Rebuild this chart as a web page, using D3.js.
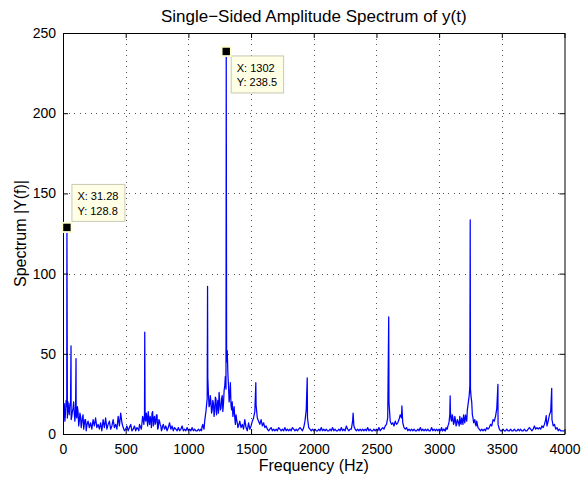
<!DOCTYPE html>
<html>
<head>
<meta charset="utf-8">
<script src="https://cdn.jsdelivr.net/npm/d3@7"></script>
<style>
  html, body { margin: 0; padding: 0; background: #fff; }
  svg { display: block; }
  text { font-family: "Liberation Sans", Arial, Helvetica, sans-serif; fill: #000; }
</style>
</head>
<body>
<svg id="chart" width="584" height="477"></svg>
<script>
// ---------------- data ----------------
const titleText = "Single\u2212Sided Amplitude Spectrum of y(t)";
const xLabelText = "Frequency (Hz)";
const yLabelText = "Spectrum |Y(f)|";

const freqStepHz = 10; // spacing of the sampled amplitude values below (0 .. 4000 Hz)
const amplitude = [
  4,19,13,17,20,12,18,11,16,13,      // 0-90
  15,10,14,8,11,7,12,6,9,5,          // 100-190
  8,4,7,3,9,5,10,4,6,3,              // 200
  7,2,9,4,10,3,6,8,3,5,              // 300
  9,4,6,3,11,5,13,7,4,2,             // 400
  3,5,2,4,6,2,3,5,2,4,               // 500
  3,6,4,7,9,12,8,10,14,6,            // 600
  9,13,5,11,7,12,4,8,5,3,            // 700
  6,3,5,2,4,7,3,5,2,4,               // 800
  3,2,4,2,3,5,2,3,2,4,               // 900
  2,3,2,4,2,3,2,2,3,2,               // 1000
  3,5,4,8,14,22,25,18,20,15,         // 1100
  19,14,22,17,13,20,16,24,19,30,     // 1200
  28,52,30,24,18,20,14,10,12,7,      // 1300
  5,8,4,6,3,9,4,2,7,3,               // 1400
  5,8,10,14,18,10,8,6,9,5,           // 1500
  7,4,5,3,2,3,4,2,3,2,               // 1600
  3,2,4,3,2,3,2,4,2,3,               // 1700
  2,3,2,4,3,2,3,2,3,4,               // 1800
  3,2,4,8,15,10,4,3,2,3,             // 1900
  2,3,2,2,3,2,4,2,3,2,               // 2000
  3,2,2,3,2,4,2,3,2,2,               // 2100
  3,2,4,2,3,2,5,3,2,3,               // 2200
  3,8,5,3,2,3,2,3,2,3,               // 2300
  2,3,2,4,2,3,2,2,3,2,               // 2400
  3,2,4,2,3,4,3,5,6,10,              // 2500
  20,8,6,7,5,8,6,7,9,12,             // 2600
  10,7,4,3,4,2,3,2,3,2,              // 2700
  3,2,2,3,2,4,2,3,2,3,               // 2800
  2,3,2,2,4,2,3,2,3,2,               // 2900
  3,2,4,2,3,2,3,5,8,14,              // 3000
  8,10,7,9,6,8,5,7,10,6,             // 3100
  9,12,8,18,24,28,20,10,8,6,         // 3200
  8,4,3,2,3,2,3,2,4,3,               // 3300
  4,6,5,9,8,11,16,6,3,2,             // 3400
  2,3,2,2,3,2,2,3,2,2,               // 3500
  3,2,2,3,2,3,2,2,3,2,               // 3600
  2,3,4,3,2,3,5,3,4,3,               // 3700
  4,3,5,4,6,9,5,8,12,14,             // 3800
  9,5,6,3,4,2,3,2,2,2,               // 3900
  2                                  // 4000
];

// extra in-between samples (half a step offset) in the noisiest bands
const fineLowStart = 5;     // 5 .. 195 Hz
const fineLowAmp = [12,8,21,10,15,19,9,14,20,8,12,17,5,13,4,10,3,9,2,7];
const fineMidStart = 605;   // 605 .. 795 Hz
const fineMidAmp = [2,5,3,11,6,10,13,5,9,11,4,14,10,6,12,3,9,6,2,5];
const finePeakStart = 1105; // 1105 .. 1395 Hz
const finePeakAmp = [2,6,3,11,18,35,17,24,13,21, 11,23,12,21,26,15,22,14,27,36, 45,38,20,32,15,11,17,6,9,4];
const fineHighStart = 3005; // 3005 .. 3295 Hz
const fineHighAmp = [2,3,2,3,2,4,3,6,12,9, 12,6,11,5,9,7,11,6,8,12, 7,10,15,21,30,23,12,7,9,5];

// narrow spectral peaks
const peakFreq = [31.28, 64, 104, 652, 1153, 1302, 1538, 1948, 2314, 2598, 2703, 3088, 3248, 3469, 3854, 3898];
const peakAmp  = [128.8, 55, 47, 63.5, 92, 238.5, 32, 35, 13, 73, 17.5, 23.7, 133.5, 31, 11.5, 28.5];

// data tips shown on the chart (indices into the peak arrays)
const tipPeaks = [0, 5];

const xTicks = [0, 500, 1000, 1500, 2000, 2500, 3000, 3500, 4000];
const yTicks = [0, 50, 100, 150, 200, 250];

// ---------------- layout ----------------
const W = 584, H = 477;
const plot = { left: 63, right: 564.5, top: 33, bottom: 434 };
const font = '"Liberation Sans", Arial, Helvetica, sans-serif';

const svg = d3.select("#chart");
svg.append("rect").attr("width", W).attr("height", H).attr("fill", "#fff");

const x = d3.scaleLinear().domain([0, 4000]).range([plot.left, plot.right]);
const y = d3.scaleLinear().domain([0, 250]).range([plot.bottom, plot.top]);

const pw = plot.right - plot.left, ph = plot.bottom - plot.top;

// grid
const grid = svg.append("g").attr("stroke", "#555").attr("stroke-width", 1)
  .attr("stroke-dasharray", "1,4.5").attr("shape-rendering", "crispEdges");
grid.selectAll("line.vx").data(xTicks.slice(1, -1)).join("line")
  .attr("x1", d => Math.round(x(d)) + 0.5).attr("x2", d => Math.round(x(d)) + 0.5)
  .attr("y1", plot.top).attr("y2", plot.bottom);
grid.selectAll("line.hy").data(yTicks.slice(1, -1)).join("line")
  .attr("y1", d => Math.round(y(d)) + 0.5).attr("y2", d => Math.round(y(d)) + 0.5)
  .attr("x1", plot.left).attr("x2", plot.right);

// data line: merge all samples, sorted by frequency
const fineSets = [[fineLowStart, fineLowAmp], [fineMidStart, fineMidAmp], [finePeakStart, finePeakAmp], [fineHighStart, fineHighAmp]];
let points = amplitude.map((a, i) => ({ f: i * freqStepHz, a }));
fineSets.forEach(([s, arr]) => arr.forEach((a, i) => points.push({ f: s + i * freqStepHz, a })));
peakFreq.forEach((f, i) => points.push({ f, a: peakAmp[i] }));
points.sort((p, q) => p.f - q.f);

svg.append("clipPath").attr("id", "clip").append("rect")
  .attr("x", plot.left).attr("y", plot.top).attr("width", pw).attr("height", ph);

svg.append("path")
  .datum(points)
  .attr("clip-path", "url(#clip)")
  .attr("fill", "none")
  .attr("stroke", "#0000ff")
  .attr("stroke-width", 1.25)
  .attr("stroke-linejoin", "round")
  .attr("d", d3.line().x(d => x(d.f)).y(d => y(d.a)));

// axes (box with inward ticks on all sides)
const tickLen = 5;
const bottomAxis = d3.axisBottom(x).tickValues(xTicks).tickSizeInner(-tickLen).tickSizeOuter(0).tickPadding(10).tickFormat(d3.format("d"));
const topAxis = d3.axisTop(x).tickValues(xTicks).tickSizeInner(-tickLen).tickSizeOuter(0).tickFormat("");
const leftAxis = d3.axisLeft(y).tickValues(yTicks).tickSizeInner(-tickLen).tickSizeOuter(0).tickPadding(7).tickFormat(d3.format("d"));
const rightAxis = d3.axisRight(y).tickValues(yTicks).tickSizeInner(-tickLen).tickSizeOuter(0).tickFormat("");

function styleAxis(g) {
  g.selectAll(".domain").attr("stroke", "#000").attr("stroke-width", 1);
  g.selectAll(".tick line").attr("stroke", "#000");
  g.selectAll("text").attr("font-family", font).attr("font-size", 14).attr("fill", "#000");
}
svg.append("g").attr("transform", `translate(0,${plot.bottom})`).call(bottomAxis).call(styleAxis);
svg.append("g").attr("transform", `translate(0,${plot.top})`).call(topAxis).call(styleAxis);
svg.append("g").attr("transform", `translate(${plot.left},0)`).call(leftAxis).call(styleAxis);
svg.append("g").attr("transform", `translate(${plot.right},0)`).call(rightAxis).call(styleAxis);

// titles
svg.append("text").attr("x", (plot.left + plot.right) / 2).attr("y", 22)
  .attr("text-anchor", "middle").attr("font-size", 17).text(titleText);
svg.append("text").attr("x", (plot.left + plot.right) / 2).attr("y", 471)
  .attr("text-anchor", "middle").attr("font-size", 16).text(xLabelText);
svg.append("text").attr("transform", `translate(26,${(plot.top + plot.bottom) / 2}) rotate(-90)`)
  .attr("text-anchor", "middle").attr("font-size", 16).text(yLabelText);

// data tips
const tipOffsets = [ { dx: 5, dy: -43 }, { dx: 5, dy: 4.5 } ];
tipPeaks.forEach((pi, k) => {
  const px = x(peakFreq[pi]), py = y(peakAmp[pi]);
  const off = tipOffsets[k];
  const g = svg.append("g");
  const bx = px + off.dx, by = py + off.dy;
  const lines = ["X: " + d3.format(".4~")(peakFreq[pi]), "Y: " + d3.format(".4~")(peakAmp[pi])];
  const tx = g.append("text").attr("font-size", 11).attr("x", bx + 5.5);
  lines.forEach((s, j) => tx.append("tspan").attr("x", bx + 5.5).attr("y", by + 16 + j * 14.3).text(s));
  const tw = Math.max(...tx.selectAll("tspan").nodes().map(n => n.getComputedTextLength()));
  g.insert("rect", "text").attr("x", bx).attr("y", by).attr("width", tw + 12).attr("height", 37)
    .attr("fill", "#ffffe6").attr("stroke", "#c8c8b4").attr("stroke-width", 1);
  // marker with halo
  g.append("rect").attr("x", px - 5.5).attr("y", py - 5.5).attr("width", 11).attr("height", 11)
    .attr("fill", "#ffffcc");
  g.append("rect").attr("x", px - 3.7).attr("y", py - 3.7).attr("width", 7.4).attr("height", 7.4)
    .attr("fill", "#000");
});
</script>
</body>
</html>
